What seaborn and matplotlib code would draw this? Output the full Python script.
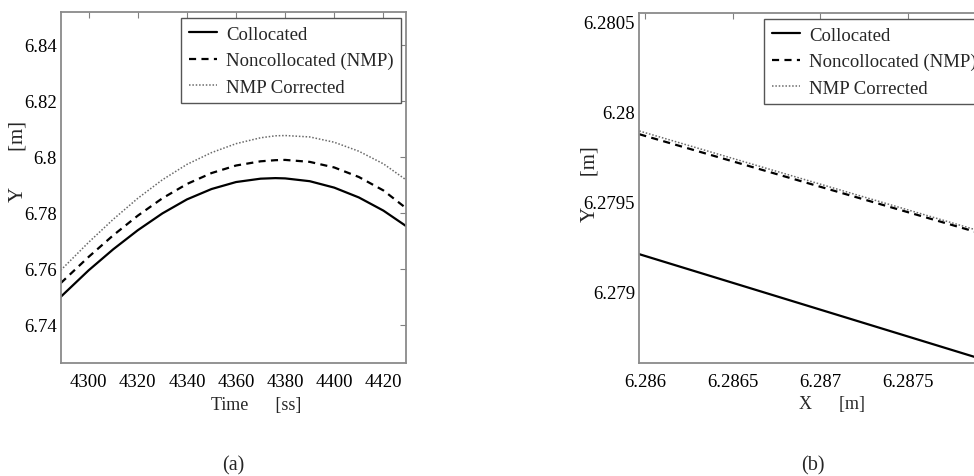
import numpy as np
import pandas as pd
import matplotlib
matplotlib.use("Agg")
import matplotlib.pyplot as plt
import seaborn as sns
from matplotlib.ticker import FixedLocator, FixedFormatter

# ---------------- data ----------------
time_s = [4288.6, 4300, 4310, 4320, 4330, 4340, 4350, 4360, 4370, 4376, 4380,
          4390, 4400, 4410, 4420, 4429.2]
y_colloc = [6.7500, 6.7595, 6.7670, 6.7738, 6.7798, 6.7848, 6.7885, 6.7910, 6.7922,
            6.7924, 6.7923, 6.7913, 6.7890, 6.7855, 6.7808, 6.7753]
y_noncol = [6.7549, 6.7643, 6.7720, 6.7790, 6.7852, 6.7903, 6.7942, 6.7969, 6.7984,
            6.7988, 6.7989, 6.7982, 6.7962, 6.7928, 6.7880, 6.7817]
y_corr = [6.7595, 6.7695, 6.7777, 6.7852, 6.7918, 6.7973, 6.8015, 6.8047, 6.8068,
          6.8075, 6.8076, 6.8071, 6.8052, 6.8020, 6.7975, 6.7918]

x_pos = [6.285968, 6.288]
xy_colloc = [6.279209, 6.278602]
xy_noncol = [6.279876, 6.279301]
xy_corr = [6.279894, 6.279312]

series_names = ["Collocated", "Noncollocated (NMP)", "NMP Corrected"]

left_yticks = [6.74, 6.76, 6.78, 6.80, 6.82, 6.84]
left_yticklabels = ["6.74", "6.76", "6.78", "6.8", "6.82", "6.84"]
left_xticks = [4300, 4320, 4340, 4360, 4380, 4400, 4420]
left_xticklabels = ["4300", "4320", "4340", "4360", "4380", "4400", "4420"]
right_yticks = [6.279, 6.2795, 6.28, 6.2805]
right_yticklabels = ["6.279", "6.2795", "6.28", "6.2805"]
right_xticks = [6.286, 6.2865, 6.287, 6.2875]
right_xticklabels = ["6.286", "6.2865", "6.287", "6.2875"]

# ---------------- style ----------------
sns.set_style("white")
plt.rcParams["font.family"] = ["Liberation Serif", "DejaVu Serif"]
FS = 13.5

df_left = pd.DataFrame({
    "t": time_s * 3,
    "y": y_colloc + y_noncol + y_corr,
    "s": [series_names[0]] * len(time_s) + [series_names[1]] * len(time_s)
         + [series_names[2]] * len(time_s),
})
df_right = pd.DataFrame({
    "x": x_pos * 3,
    "y": xy_colloc + xy_noncol + xy_corr,
    "s": [series_names[0]] * 2 + [series_names[1]] * 2 + [series_names[2]] * 2,
})

W, H = 974, 477
fig = plt.figure(figsize=(W / 100, H / 100), dpi=100)
ax1 = fig.add_axes([60.7 / W, (H - 364) / H, 345.3 / W, 351 / H])
ax2 = fig.add_axes([639.3 / W, (H - 364) / H, 356.3 / W, 350 / H])

palette = {series_names[0]: "black", series_names[1]: "black", series_names[2]: "#6a6a6a"}
dashes = {series_names[0]: "", series_names[1]: (3.2, 2.4), series_names[2]: (1.0, 1.2)}
sizes = {series_names[0]: 1.6, series_names[1]: 1.6, series_names[2]: 1.1}

for ax, df, xcol in [(ax1, df_left, "t"), (ax2, df_right, "x")]:
    sns.lineplot(data=df, x=xcol, y="y", hue="s", style="s", size="s",
                 palette=palette, dashes=dashes, sizes=sizes,
                 hue_order=series_names, style_order=series_names,
                 size_order=series_names, ax=ax, legend=True, sort=False)

def style_axes(ax, xlim, ylim, xt, xtl, yt, ytl, ylab, ylab_pos, xlab, xlab_pos, leg_anchor):
    ax.set_xlim(*xlim)
    ax.set_ylim(*ylim)
    ax.xaxis.set_major_locator(FixedLocator(xt))
    ax.xaxis.set_major_formatter(FixedFormatter(xtl))
    ax.yaxis.set_major_locator(FixedLocator(yt))
    ax.yaxis.set_major_formatter(FixedFormatter(ytl))
    ax.tick_params(direction="in", length=4, width=0.8, color="#808080",
                   top=True, right=True, labelsize=FS, labelcolor="black")
    ax.tick_params(axis="x", pad=7)
    ax.tick_params(axis="y", pad=3)
    for sp in ax.spines.values():
        sp.set_visible(True)
        sp.set_color("#8a8a8a")
        sp.set_linewidth(1.3)
    ax.set_ylabel(ylab, fontsize=15)
    ax.yaxis.label.set_va("center")
    ax.yaxis.set_label_coords(*ylab_pos)
    ax.set_xlabel(xlab, fontsize=13)
    ax.xaxis.label.set_va("center")
    ax.xaxis.set_label_coords(*xlab_pos)
    leg = ax.legend(loc="upper left", bbox_to_anchor=leg_anchor, fontsize=FS,
                    frameon=True, fancybox=False, framealpha=1, edgecolor="#555555",
                    handlelength=1.5, handletextpad=0.5, borderpad=0.4,
                    labelspacing=0.5, borderaxespad=0.0)
    leg.get_frame().set_linewidth(1.0)

style_axes(ax1, (4288.6, 4429.2), (6.7264, 6.8517),
           left_xticks, left_xticklabels, left_yticks, left_yticklabels,
           "Y       [m]", (-0.125, 0.578), "Time      [ss]", (0.565, -0.117),
           ((181 - 60.7) / 345.3, (351 - 6) / 351))
style_axes(ax2, (6.285968, 6.288), (6.278604, 6.28055),
           right_xticks, right_xticklabels, right_yticks, right_yticklabels,
           "Y      [m]", (-0.138, 0.513), "X      [m]", (0.542, -0.117),
           ((764 - 639.3) / 356.3, (350 - 6) / 350))

fig.text(233 / W, 1 - 466 / H, "(a)", ha="center", va="center", fontsize=14.5)
fig.text(813 / W, 1 - 466 / H, "(b)", ha="center", va="center", fontsize=14.5)

fig.savefig("out.png", dpi=100)
